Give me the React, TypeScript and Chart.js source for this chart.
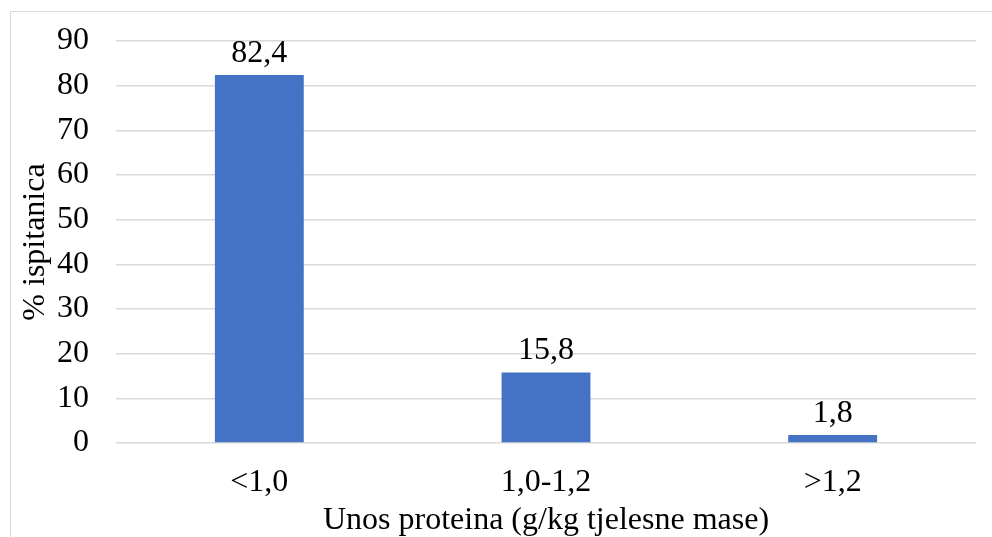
import React, { useEffect, useRef } from "react";
import { Chart, registerables } from "chart.js";

Chart.register(...registerables);

const categories = ["<1,0", "1,0-1,2", ">1,2"];
const values = [82.4, 15.8, 1.8];
const valueLabels = ["82,4", "15,8", "1,8"];
const yTitle = "% ispitanica";
const xTitle = "Unos proteina (g/kg tjelesne mase)";

const FONT = "'Liberation Serif', 'Times New Roman', serif";
const FS = 32;

const labelPlugin = {
  id: "valueLabels",
  afterDatasetsDraw(chart: any) {
    const ctx = chart.ctx;
    const meta = chart.getDatasetMeta(0);
    ctx.save();
    ctx.font = `${FS}px ${FONT}`;
    ctx.fillStyle = "#000";
    ctx.textAlign = "center";
    ctx.textBaseline = "alphabetic";
    meta.data.forEach((el: any, i: number) => {
      ctx.fillText(valueLabels[i], el.x, el.y - 13);
    });
    ctx.restore();
  },
};

export default function App() {
  const ref = useRef<HTMLCanvasElement | null>(null);
  useEffect(() => {
    if (!ref.current) return;
    const chart = new Chart(ref.current, {
      type: "bar",
      data: {
        labels: categories,
        datasets: [
          {
            data: values,
            backgroundColor: "#4472C4",
            categoryPercentage: 1,
            barPercentage: 0.31,
          },
        ],
      },
      options: {
        animation: false,
        responsive: false,
        devicePixelRatio: 1,
        layout: { padding: { top: 41, right: 16, bottom: -3, left: 16 } },
        plugins: {
          legend: { display: false },
          tooltip: { enabled: false },
        },
        scales: {
          x: {
            grid: { display: false },
            border: { display: false },
            afterFit: (s: any) => {
              s.height = 97;
              s.paddingLeft = 0;
              s.paddingRight = 0;
            },
            ticks: { color: "#000", font: { family: FONT, size: FS }, padding: 12 },
            title: {
              display: true,
              text: xTitle,
              color: "#000",
              font: { family: FONT, size: FS },
              padding: { top: 0, bottom: 0 },
            },
          },
          y: {
            min: 0,
            max: 90,
            afterFit: (s: any) => {
              s.width = 100;
              s.paddingTop = 0;
              s.paddingBottom = 0;
            },
            grid: { color: "#d9d9d9", lineWidth: 1.5, drawTicks: false },
            border: { display: false },
            ticks: {
              stepSize: 10,
              color: "#000",
              font: { family: FONT, size: FS },
              padding: 27,
            },
            title: {
              display: true,
              text: yTitle,
              color: "#000",
              font: { family: FONT, size: FS },
              padding: { top: 0, bottom: 2 },
            },
          },
        },
      },
      plugins: [labelPlugin],
    });
    return () => chart.destroy();
  }, []);
  return (
    <div style={{ position: "fixed", left: 0, top: 0, width: 992, height: 537, overflow: "hidden", background: "#fff" }}>
      <div
        style={{
          position: "absolute",
          left: 10,
          top: 11,
          width: 2000,
          height: 2000,
          border: "1.5px solid #d9d9d9",
        }}
      />
      <canvas ref={ref} width={992} height={537} style={{ position: "absolute", left: 0, top: 0, width: 992, height: 537 }} />
    </div>
  );
}
